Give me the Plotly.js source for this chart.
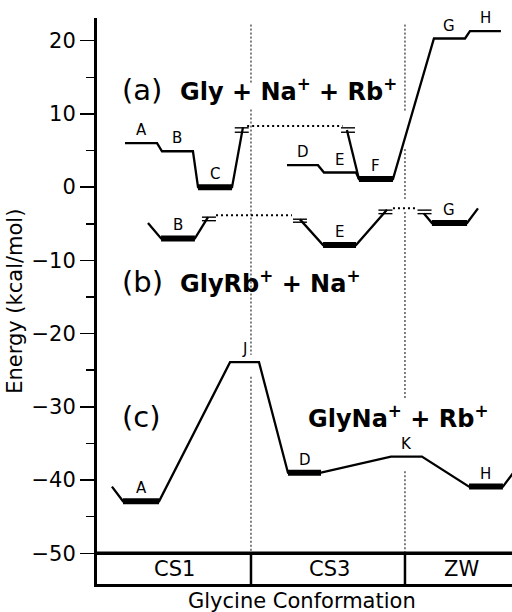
<!DOCTYPE html>
<html><head><meta charset="utf-8">
<script src="https://cdn.plot.ly/plotly-3.0.1.min.js"></script>
<style>html,body{margin:0;padding:0;background:#fff}</style>
</head><body><div id="chart" style="width:512px;height:612px"></div>
<script>
// Conformation coordinate: CS1 spans 0-1, CS3 spans 1-2, ZW spans 2-3 (cut at right edge)
const categories = ['CS1', 'CS3', 'ZW'];
const categoryCenters = [0.506, 1.513, 2.37];
const categoryBounds = [1, 2];

// (a) Gly + Na+ + Rb+
const aNames  = ['A', 'B', 'C', 'D', 'E', 'F', 'G', 'H'];
const aStart  = [0.182, 0.422, 0.656, 1.234, 1.474, 1.701, 2.188, 2.422];
const aEnd    = [0.390, 0.623, 0.877, 1.435, 1.682, 1.922, 2.390, 2.623];
const aEnergy = [6.0, 4.9, 0.0, 3.0, 2.0, 1.1, 20.3, 21.3];
const aMinima = ['C', 'F'];
const aBreakX = [0.940, 1.630];
const aBreakUpper = [8.1, 8.1];
const aBreakLower = [7.5, 7.5];
const aLinkX = [0.975, 1.595];
const aLinkE = 8.35;

// (b) GlyRb+ + Na+
const bNames  = ['B', 'E', 'G'];
const bStart  = [0.416, 1.468, 2.175];
const bEnd    = [0.636, 1.682, 2.403];
const bEnergy = [-7.0, -7.9, -4.9];
const bMinima = ['B', 'E', 'G'];
const bHeadX = [0.331, 1.318, 2.123];
const bHeadE = [-4.9, -4.4, -3.6];
const bTailX = [0.721, 1.883, 2.474];
const bTailE = [-4.1, -3.1, -2.9];
const bBreakX = [0.727, 1.318, 1.873, 2.127];
const bBreakUpper = [-4.10, -4.38, -3.14, -3.14];
const bBreakLower = [-4.58, -4.79, -3.62, -3.62];
const bLink1X = [0.773, 1.266];
const bLink1E = -3.83;
const bLink2X = [1.922, 2.084];
const bLink2E = -2.87;

// (c) GlyNa+ + Rb+
const cNames  = ['A', 'J', 'D', 'K', 'H'];
const cStart  = [0.169, 0.864, 1.240, 1.909, 2.416];
const cEnd    = [0.403, 1.052, 1.455, 2.110, 2.636];
const cEnergy = [-42.9, -23.9, -39.0, -36.8, -40.9];
const cMinima = ['A', 'D', 'H'];
const cHeadX = 0.097, cHeadE = -40.9;
const cTailX = 2.70, cTailE = -39.1;

// dotted dividers between conformations (segments of energy)
const div1Segments = [[22.2, 14.0], [10.6, -22.9], [-25.9, -50]];
const div2Segments = [[22.2, 10.2], [5.2, -1.6], [-3.4, -29.0], [-38.8, -50]];

const yMin = -54.2, yMax = 23.1, xMax = 2.695;

function idx(names, n) { return names.indexOf(n); }
function levelPath(names, start, end, energy, seq, head, tail) {
  const x = [], y = [];
  if (head) { x.push(head[0]); y.push(head[1]); }
  seq.forEach(n => { const i = idx(names, n); x.push(start[i], end[i]); y.push(energy[i], energy[i]); });
  if (tail) { x.push(tail[0]); y.push(tail[1]); }
  return {x, y};
}
const thin = {color: '#000', width: 2.3};
function lineTrace(p) { return {x: p.x, y: p.y, mode: 'lines', line: thin, hoverinfo: 'skip', showlegend: false}; }
function minimaTrace(names, start, end, energy, minima) {
  const x = [], y = [];
  minima.forEach(n => { const i = idx(names, n); x.push(start[i], end[i], null); y.push(energy[i], energy[i], null); });
  return {x, y, mode: 'lines', line: {color: '#000', width: 6}, hoverinfo: 'skip', showlegend: false};
}
function breakTrace(bx, up, lo) {
  return {x: bx.concat(bx), y: up.concat(lo), mode: 'markers',
    marker: {symbol: 'line-ew', size: 10, color: '#000', line: {color: '#000', width: 1.4}},
    hoverinfo: 'skip', showlegend: false};
}
function linkTrace(lx, e) {
  return {x: lx, y: [e, e], mode: 'lines', line: {color: '#000', width: 2, dash: '2px,3px'}, hoverinfo: 'skip', showlegend: false};
}
function dividerTrace(xv, segs) {
  const x = [], y = [];
  segs.forEach(s => { x.push(xv, xv, null); y.push(s[0], s[1], null); });
  return {x, y, mode: 'lines', line: {color: '#000', width: 1, dash: '2px,2px'}, hoverinfo: 'skip', showlegend: false};
}

const traces = [
  dividerTrace(categoryBounds[0], div1Segments),
  dividerTrace(categoryBounds[1], div2Segments),
  // (a)
  lineTrace(levelPath(aNames, aStart, aEnd, aEnergy, ['A', 'B', 'C'], null, [0.948, 8.2])),
  lineTrace(levelPath(aNames, aStart, aEnd, aEnergy, ['D', 'E', 'F', 'G', 'H'], null, null)),
  lineTrace({x: [1.623, aStart[idx(aNames, 'F')]], y: [7.8, aEnergy[idx(aNames, 'F')]]}),
  minimaTrace(aNames, aStart, aEnd, aEnergy, aMinima),
  breakTrace(aBreakX, aBreakUpper, aBreakLower),
  linkTrace(aLinkX, aLinkE),
  // (b)
  lineTrace(levelPath(bNames, bStart, bEnd, bEnergy, ['B'], [bHeadX[0], bHeadE[0]], [bTailX[0], bTailE[0]])),
  lineTrace(levelPath(bNames, bStart, bEnd, bEnergy, ['E'], [bHeadX[1], bHeadE[1]], [bTailX[1], bTailE[1]])),
  lineTrace(levelPath(bNames, bStart, bEnd, bEnergy, ['G'], [bHeadX[2], bHeadE[2]], [bTailX[2], bTailE[2]])),
  minimaTrace(bNames, bStart, bEnd, bEnergy, bMinima),
  breakTrace(bBreakX, bBreakUpper, bBreakLower),
  linkTrace(bLink1X, bLink1E),
  linkTrace(bLink2X, bLink2E),
  // (c)
  lineTrace(levelPath(cNames, cStart, cEnd, cEnergy, cNames, [cHeadX, cHeadE], [cTailX, cTailE])),
  minimaTrace(cNames, cStart, cEnd, cEnergy, cMinima)
];

const FONT = 'DejaVu Sans, Liberation Sans, Arial, sans-serif';
const annotations = [];
function addLabels(names, start, end, energy) {
  names.forEach((n, i) => annotations.push({
    x: (start[i] + end[i]) / 2, y: energy[i], xref: 'x', yref: 'y', text: n, showarrow: false,
    yanchor: 'middle', yshift: 13, font: {family: FONT, size: 15, color: '#000'}
  }));
}
addLabels(aNames, aStart, aEnd, aEnergy);
addLabels(bNames, bStart, bEnd, bEnergy);
addLabels(cNames, cStart, cEnd, cEnergy);

categories.forEach((c, i) => annotations.push({
  x: categoryCenters[i], y: (-50 + yMin) / 2, xref: 'x', yref: 'y', text: c, showarrow: false,
  yanchor: 'middle', font: {family: FONT, size: 21, color: '#000'}
}));

const bigFont = {family: FONT, size: 29, color: '#000'};
const boldFont = {family: FONT, size: 24, color: '#000', weight: 'bold'};
annotations.push(
  {x: 0.149, y: 13.3, xref: 'x', yref: 'y', text: '(a)', showarrow: false, xanchor: 'left', yanchor: 'middle', font: bigFont},
  {x: 0.526, y: 13.3, xref: 'x', yref: 'y', text: 'Gly + Na<sup>+</sup> + Rb<sup>+</sup>', showarrow: false, xanchor: 'left', yanchor: 'middle', font: boldFont},
  {x: 0.149, y: -12.9, xref: 'x', yref: 'y', text: '(b)', showarrow: false, xanchor: 'left', yanchor: 'middle', font: bigFont},
  {x: 0.526, y: -12.9, xref: 'x', yref: 'y', text: 'GlyRb<sup>+</sup> + Na<sup>+</sup>', showarrow: false, xanchor: 'left', yanchor: 'middle', font: boldFont},
  {x: 0.149, y: -31.4, xref: 'x', yref: 'y', text: '(c)', showarrow: false, xanchor: 'left', yanchor: 'middle', font: bigFont},
  {x: 1.357, y: -31.4, xref: 'x', yref: 'y', text: 'GlyNa<sup>+</sup> + Rb<sup>+</sup>', showarrow: false, xanchor: 'left', yanchor: 'middle', font: boldFont},
  {x: 0.494, y: -0.03, xref: 'paper', yref: 'paper', text: 'Glycine Conformation', showarrow: false, xanchor: 'center', yanchor: 'middle', font: {family: FONT, size: 21, color: '#000'}},
  {x: -0.198, y: 0.5, xref: 'paper', yref: 'paper', text: 'Energy (kcal/mol)', showarrow: false, textangle: -90, xanchor: 'center', yanchor: 'middle', font: {family: FONT, size: 21, color: '#000'}}
);

const layout = {
  width: 512, height: 612,
  margin: {l: 97, r: 0, t: 18, b: 28, pad: 0},
  paper_bgcolor: '#fff', plot_bgcolor: '#fff',
  showlegend: false,
  xaxis: {range: [0, xMax], showgrid: false, zeroline: false, showticklabels: false, ticks: '',
          showline: true, linecolor: '#000', linewidth: 2.5, fixedrange: true},
  yaxis: {range: [yMin, yMax], tickmode: 'linear', tick0: 0, dtick: 10, ticks: 'outside', ticklen: 14, tickwidth: 1.5,
          tickcolor: '#000', showline: true, linecolor: '#000', linewidth: 3, showgrid: false, zeroline: false,
          tickfont: {family: FONT, size: 21, color: '#000'}, fixedrange: true,
          minor: {dtick: 5, ticks: 'outside', ticklen: 8, tickwidth: 1.5, tickcolor: '#000', showgrid: false}},
  shapes: [
    {type: 'line', xref: 'x', yref: 'y', x0: 0, x1: xMax, y0: -50, y1: -50, line: {color: '#000', width: 3.5}},
    {type: 'line', xref: 'x', yref: 'y', x0: categoryBounds[0], x1: categoryBounds[0], y0: -50, y1: yMin, line: {color: '#000', width: 2.5}},
    {type: 'line', xref: 'x', yref: 'y', x0: categoryBounds[1], x1: categoryBounds[1], y0: -50, y1: yMin, line: {color: '#000', width: 2.5}}
  ],
  annotations: annotations
};
Plotly.newPlot('chart', traces, layout, {displayModeBar: false, staticPlot: true});
</script></body></html>
